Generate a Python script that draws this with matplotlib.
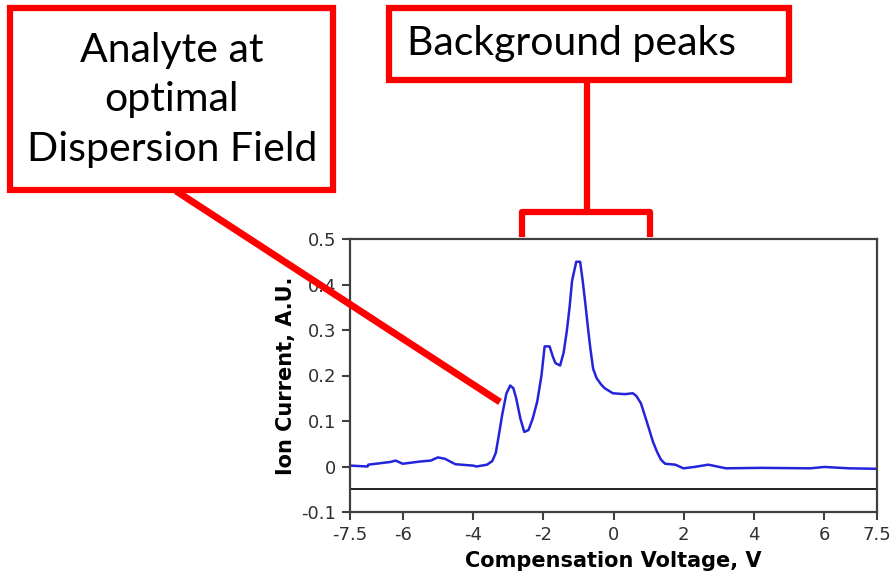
import matplotlib
matplotlib.use("Agg")
import matplotlib.pyplot as plt
from matplotlib.patches import Rectangle
from matplotlib.lines import Line2D

# --- data ---
cv = [-7.5, -7.0, -6.98, -6.35, -6.2, -6.0, -5.5, -5.2, -5.0, -4.8, -4.5, -4.0, -3.9,
      -3.6, -3.45, -3.35, -3.25, -3.17, -3.05, -2.94, -2.85, -2.77, -2.65, -2.54, -2.42,
      -2.3, -2.17, -2.05, -1.96, -1.82, -1.72, -1.65, -1.52, -1.42, -1.33, -1.25, -1.18,
      -1.06, -0.95, -0.88, -0.80, -0.72, -0.66, -0.58, -0.48, -0.35, -0.25, -0.02,
      0.32, 0.55, 0.65, 0.78, 0.9, 1.01, 1.12, 1.24, 1.35, 1.47, 1.76, 1.99, 2.3, 2.7,
      3.2, 4.2, 5.6, 6.0, 6.7, 7.45, 7.5]
current = [0.002, 0.0, 0.004, 0.010, 0.013, 0.006, 0.011, 0.013, 0.020, 0.017, 0.005,
           0.002, 0.0, 0.004, 0.012, 0.030, 0.075, 0.113, 0.160, 0.178, 0.172, 0.150,
           0.105, 0.076, 0.080, 0.105, 0.143, 0.200, 0.264, 0.264, 0.240, 0.227, 0.222,
           0.250, 0.297, 0.350, 0.408, 0.450, 0.450, 0.410, 0.357, 0.300, 0.260, 0.215,
           0.194, 0.180, 0.172, 0.161, 0.159, 0.161, 0.155, 0.139, 0.110, 0.083, 0.055,
           0.032, 0.015, 0.006, 0.004, -0.004, -0.001, 0.004, -0.004, -0.003, -0.004,
           -0.001, -0.004, -0.005, -0.005]
baseline_level = -0.05
xticks = [-7.5, -6, -4, -2, 0, 2, 4, 6, 7.5]
xtick_labels = ["-7.5", "-6", "-4", "-2", "0", "2", "4", "6", "7.5"]
yticks = [-0.1, 0, 0.1, 0.2, 0.3, 0.4, 0.5]
ytick_labels = ["-0.1", "0", "0.1", "0.2", "0.3", "0.4", "0.5"]
box1_text = "Analyte at\noptimal\nDispersion Field"
box2_text = "Background peaks"

W, H = 893, 580
fig = plt.figure(figsize=(W / 100, H / 100), dpi=100)
fig.patch.set_facecolor("white")

def fx(px):
    return px / W

def fy(py):
    return 1 - py / H

ax = fig.add_axes([fx(350), fy(512), fx(877) - fx(350), fy(239) - fy(512)])
ax.plot(cv, current, color="#2424dc", lw=1.8)
ax.axhline(baseline_level, color="#202020", lw=1.4)
ax.set_xlim(-7.5, 7.5)
ax.set_ylim(-0.1, 0.5)
ax.set_xticks(xticks)
ax.set_xticklabels(xtick_labels)
ax.set_yticks(yticks)
ax.set_yticklabels(ytick_labels)
for s in ax.spines.values():
    s.set_color("#404040")
    s.set_linewidth(1.6)
ax.tick_params(direction="out", length=6, width=1.5, color="#404040",
               labelsize=13, labelcolor="#303030", pad=4)
ax.set_xlabel("Compensation Voltage, V", fontsize=15, fontweight="bold", labelpad=5)
ax.set_ylabel("Ion Current, A.U.", fontsize=15, fontweight="bold", labelpad=4)

red = "#ff0000"
# Boxes
fig.add_artist(Rectangle((fx(10), fy(190)), fx(333) - fx(10), fy(8) - fy(190),
                         transform=fig.transFigure, facecolor="white",
                         edgecolor=red, lw=4.5))
fig.add_artist(Rectangle((fx(389), fy(80)), fx(789) - fx(389), fy(8) - fy(80),
                         transform=fig.transFigure, facecolor="white",
                         edgecolor=red, lw=4.5))
fig.text(fx(172), fy(100), box1_text, ha="center", va="center", fontsize=29.5,
         family="Lato", linespacing=1.42)
fig.text(fx(407), fy(44), box2_text, ha="left", va="center", fontsize=29.5,
         family="Lato")

# connectors
def seg(x0, y0, x1, y1, lw=4.5):
    fig.add_artist(Line2D([fx(x0), fx(x1)], [fy(y0), fy(y1)],
                          transform=fig.transFigure, color=red, lw=lw,
                          solid_capstyle="butt"))

seg(587, 80, 587, 212)
fig.add_artist(Line2D([fx(522), fx(522), fx(650), fx(650)],
                      [fy(234), fy(212), fy(212), fy(234)],
                      transform=fig.transFigure, color=red, lw=4.5,
                      solid_joinstyle="round"))
seg(176, 191, 500, 402, lw=5)

fig.savefig("out.png", dpi=100)
